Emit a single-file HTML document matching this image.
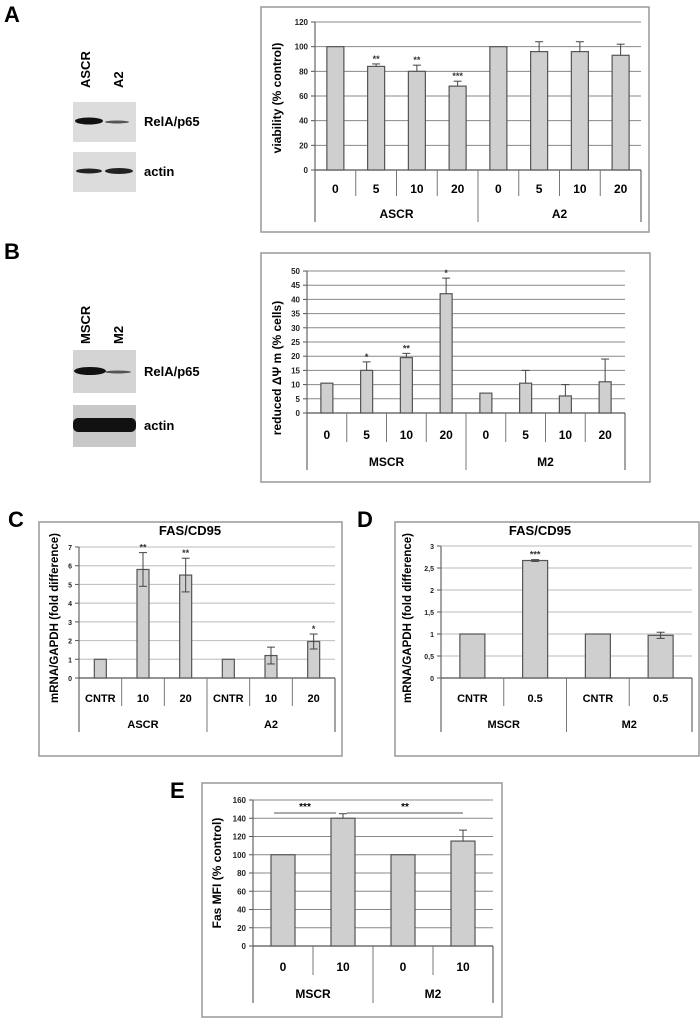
<!DOCTYPE html>
<html><head><meta charset="utf-8"><style>
body{margin:0;background:#fff;width:700px;height:1027px;overflow:hidden;font-family:"Liberation Sans",Arial,sans-serif}
svg{position:absolute;left:0;top:0}
</style></head><body>
<svg id="fig" width="700" height="1027" viewBox="0 0 700 1027" font-family="Liberation Sans, Arial, sans-serif">
<text x="4" y="22" font-size="22" font-weight="bold">A</text>
<text x="4" y="259" font-size="22" font-weight="bold">B</text>
<text x="8" y="527" font-size="22" font-weight="bold">C</text>
<text x="357" y="527" font-size="22" font-weight="bold">D</text>
<text x="170" y="798" font-size="22" font-weight="bold">E</text>
<g>
<text transform="translate(90,88) rotate(-90)" font-size="13" font-weight="bold">ASCR</text>
<text transform="translate(123,88) rotate(-90)" font-size="13" font-weight="bold">A2</text>
<rect x="73" y="102" width="63" height="40" fill="#dcdcdc"/>
<ellipse cx="89" cy="121" rx="14" ry="3.5" fill="#111"/>
<ellipse cx="117" cy="122" rx="12" ry="1.5" fill="#555"/>
<text x="144" y="126" font-size="13" font-weight="bold">RelA/p65</text>
<rect x="73" y="152" width="63" height="40" fill="#dcdcdc"/>
<ellipse cx="89" cy="171" rx="13" ry="2.5" fill="#222"/>
<ellipse cx="119" cy="171" rx="14" ry="3" fill="#222"/>
<text x="144" y="176" font-size="13" font-weight="bold">actin</text>
</g>
<g>
<text transform="translate(90,344) rotate(-90)" font-size="13" font-weight="bold">MSCR</text>
<text transform="translate(123,344) rotate(-90)" font-size="13" font-weight="bold">M2</text>
<rect x="73" y="350" width="63" height="43" fill="#d4d4d4"/>
<ellipse cx="90" cy="371" rx="16" ry="4" fill="#111"/>
<ellipse cx="118" cy="372" rx="13" ry="1.5" fill="#555"/>
<text x="144" y="376" font-size="13" font-weight="bold">RelA/p65</text>
<rect x="73" y="405" width="63" height="42" fill="#c8c8c8"/>
<rect x="73" y="418" width="63" height="14" rx="5" fill="#111"/>
<text x="144" y="430" font-size="13" font-weight="bold">actin</text>
</g>
</svg>
<script>
const aCats = ["0","5","10","20","0","5","10","20"];
const aGroups = ["ASCR","A2"];
const aValues = [100,84,80,68,100,96,96,93];
const aErrors = [0,2,5,4,0,8,8,9];
const aStars = ["","**","**","***","","","",""];
const aTicks = [0,20,40,60,80,100,120];

const bCats = ["0","5","10","20","0","5","10","20"];
const bGroups = ["MSCR","M2"];
const bValues = [10.5,15,19.5,42,7,10.5,6,11];
const bErrors = [0,3,1.5,5.5,0,4.5,4,8];
const bStars = ["","*","**","*","","","",""];
const bTicks = [0,5,10,15,20,25,30,35,40,45,50];

const cCats = ["CNTR","10","20","CNTR","10","20"];
const cGroups = ["ASCR","A2"];
const cValues = [1,5.8,5.5,1,1.2,1.95];
const cErrors = [0,0.9,0.9,0,0.45,0.4];
const cStars = ["","**","**","","","*"];
const cTicks = [0,1,2,3,4,5,6,7];

const dCats = ["CNTR","0.5","CNTR","0.5"];
const dGroups = ["MSCR","M2"];
const dValues = [1,2.67,1,0.97];
const dErrors = [0,0.02,0,0.07];
const dStars = ["","***","",""];
const dTicks = [0,0.5,1,1.5,2,2.5,3];
const dTickLabels = ["0","0,5","1","1,5","2","2,5","3"];

const eCats = ["0","10","0","10"];
const eGroups = ["MSCR","M2"];
const eValues = [100,140,100,115];
const eErrors = [0,5,0,12];
const eBrackets = [[0,1,"***"],[1,3,"**"]];
const eTicks = [0,20,40,60,80,100,120,140,160];

const NS = "http://www.w3.org/2000/svg";
const fig = document.getElementById("fig");
function mk(tag, attrs, parent, txt){
  const e = document.createElementNS(NS, tag);
  for (const k in attrs) e.setAttribute(k, attrs[k]);
  if (txt !== undefined) e.textContent = txt;
  (parent || fig).appendChild(e);
  return e;
}

function drawChart(key, cfg){
  const g = mk("g", {});
  
  
  const box = mk("rect", {x:cfg.box[0], y:cfg.box[1], width:cfg.box[2], height:cfg.box[3], fill:"#fff", stroke:"#999", "stroke-width":1.5}, g);
  
  
  if (cfg.title){
    const t = mk("text", {x:cfg.titleX, y:cfg.titleY, "font-size":13, "font-weight":"bold", "text-anchor":"middle"}, g, cfg.title);
    
    
  }
  const x0 = cfg.x0, x1 = cfg.x1, y0 = cfg.y0, yTop = cfg.yTop;
  const vmax = cfg.ticks[cfg.ticks.length-1];
  const ys = v => y0 - (v / vmax) * (y0 - yTop);
  const n = cfg.cats.length, step = (x1 - x0) / n;
  const xc = i => x0 + step * (i + 0.5);
  cfg.ticks.forEach((tv, i) => {
    const y = ys(tv);
    const gl = mk("line", {x1:x0, x2:x1, y1:y, y2:y, stroke:cfg.grid, "stroke-width":1}, g);
    
    
    mk("line", {x1:x0-4, x2:x0, y1:y, y2:y, stroke:"#555"}, g);
    const lab = cfg.tickLabels ? cfg.tickLabels[i] : String(tv);
    const tl = mk("text", {x:x0-7, y:y+3, "font-size":cfg.tickFont, "font-weight":"bold", "text-anchor":"end", fill:"#222"}, g, lab);
    
    
  });
  mk("line", {x1:x0, x2:x0, y1:yTop, y2:cfg.yBottom, stroke:"#666", "stroke-width":1.2}, g);
  mk("line", {x1:x1, x2:x1, y1:y0, y2:cfg.yBottom, stroke:"#666", "stroke-width":1.2}, g);
  mk("line", {x1:x0, x2:x1, y1:y0, y2:y0, stroke:"#555", "stroke-width":1.2}, g);
  const yt = mk("text", {transform:`translate(${cfg.yTitleX},${cfg.yTitleY}) rotate(-90)`, "font-size":cfg.yTitleFont, "font-weight":"bold", "text-anchor":"middle"}, g, cfg.yTitle);
  
  
  const per = n / cfg.groups.length;
  for (let i = 1; i < n; i++){
    const x = x0 + step * i;
    const full = i % per === 0;
    mk("line", {x1:x, x2:x, y1:y0, y2: full ? cfg.yBottom : cfg.catDivBottom, stroke:"#777", "stroke-width":1}, g);
  }
  cfg.cats.forEach((c, i) => {
    const t = mk("text", {x:xc(i), y:cfg.catY, "font-size":cfg.catFont, "font-weight":"bold", "text-anchor":"middle"}, g, c);
    
    
  });
  cfg.groups.forEach((gr, j) => {
    const t = mk("text", {x:x0 + step * per * (j + 0.5), y:cfg.groupY, "font-size":cfg.catFont, "font-weight":"bold", "text-anchor":"middle"}, g, gr);
    
    
  });
  cfg.values.forEach((v, i) => {
    const bw = cfg.barW, cx = xc(i), top = ys(v);
    const b = mk("rect", {x:cx-bw/2, y:top, width:bw, height:y0-top, fill:"#cfcfcf", stroke:"#555", "stroke-width":1.2}, g);
    
    
    const e = cfg.errors[i];
    if (e > 0){
      const yHi = ys(v + e), yLo = cfg.twoSided ? ys(v - e) : top;
      const eb = mk("line", {x1:cx, x2:cx, y1:yHi, y2:yLo, stroke:"#444", "stroke-width":1}, g);
      
      
      mk("line", {x1:cx-4, x2:cx+4, y1:yHi, y2:yHi, stroke:"#444", "stroke-width":1}, g);
      if (cfg.twoSided) mk("line", {x1:cx-4, x2:cx+4, y1:yLo, y2:yLo, stroke:"#444", "stroke-width":1}, g);
    }
    if (cfg.stars && cfg.stars[i]){
      const s = mk("text", {x:cx, y:ys(v + e) - 2, "font-size":9, "font-weight":"bold", "text-anchor":"middle", fill:"#333"}, g, cfg.stars[i]);
      
      
    }
  });
  if (cfg.brackets){
    cfg.brackets.forEach(br => {
      const xa = xc(br[0]) + (br[0] === 0 ? -9 : 4);
      const xb = xc(br[1]) - (br[1] === 1 ? 7 : 0);
      const y = ys(vmax) + 13;
      const l = mk("line", {x1:xa, x2:xb, y1:y, y2:y, stroke:"#555", "stroke-width":1}, g);
      
      
      const s = mk("text", {x:(xa+xb)/2, y:y-3, "font-size":10, "font-weight":"bold", "text-anchor":"middle"}, g, br[2]);
      
      
    });
  }
}

drawChart("viability", {box:[261,7,388,225], x0:315, x1:641, y0:170, yTop:22, yBottom:222, catDivBottom:196,
  cats:aCats, groups:aGroups, values:aValues, errors:aErrors, stars:aStars, ticks:aTicks,
  tickFont:8, catFont:12, catY:193, groupY:218, barW:17, grid:"#888",
  yTitle:"viability (% control)", yTitleX:281, yTitleY:98, yTitleFont:12});

drawChart("membrane-potential", {box:[261,253,389,229], x0:307, x1:625, y0:413, yTop:271, yBottom:470, catDivBottom:442,
  cats:bCats, groups:bGroups, values:bValues, errors:bErrors, stars:bStars, ticks:bTicks,
  tickFont:8, catFont:12, catY:439, groupY:466, barW:12, grid:"#888",
  yTitle:"reduced \u0394\u03A8 m (% cells)", yTitleX:281, yTitleY:368, yTitleFont:12});

drawChart("fas-mrna-a", {box:[39,522,303,234], x0:79, x1:335, y0:678, yTop:547, yBottom:732, catDivBottom:706,
  cats:cCats, groups:cGroups, values:cValues, errors:cErrors, stars:cStars, ticks:cTicks,
  tickFont:7, catFont:11, catY:702, groupY:728, barW:12, grid:"#bbb", twoSided:true,
  title:"FAS/CD95", titleX:190, titleY:535,
  yTitle:"mRNA/GAPDH (fold difference)", yTitleX:58, yTitleY:618, yTitleFont:11.5});

drawChart("fas-mrna-m", {box:[395,522,304,234], x0:441, x1:692, y0:678, yTop:546, yBottom:732, catDivBottom:706,
  cats:dCats, groups:dGroups, values:dValues, errors:dErrors, stars:dStars, ticks:dTicks, tickLabels:dTickLabels,
  tickFont:7, catFont:11, catY:702, groupY:728, barW:25, grid:"#bbb", twoSided:true,
  title:"FAS/CD95", titleX:540, titleY:535,
  yTitle:"mRNA/GAPDH (fold difference)", yTitleX:411, yTitleY:618, yTitleFont:11.5});

drawChart("fas-mfi", {box:[202,783,300,234], x0:253, x1:493, y0:946, yTop:800, yBottom:1003, catDivBottom:975,
  cats:eCats, groups:eGroups, values:eValues, errors:eErrors, brackets:eBrackets, ticks:eTicks,
  tickFont:8, catFont:12, catY:971, groupY:998, barW:24, grid:"#888",
  yTitle:"Fas MFI  (% control)", yTitleX:221, yTitleY:873, yTitleFont:12});
</script>
</body></html>
